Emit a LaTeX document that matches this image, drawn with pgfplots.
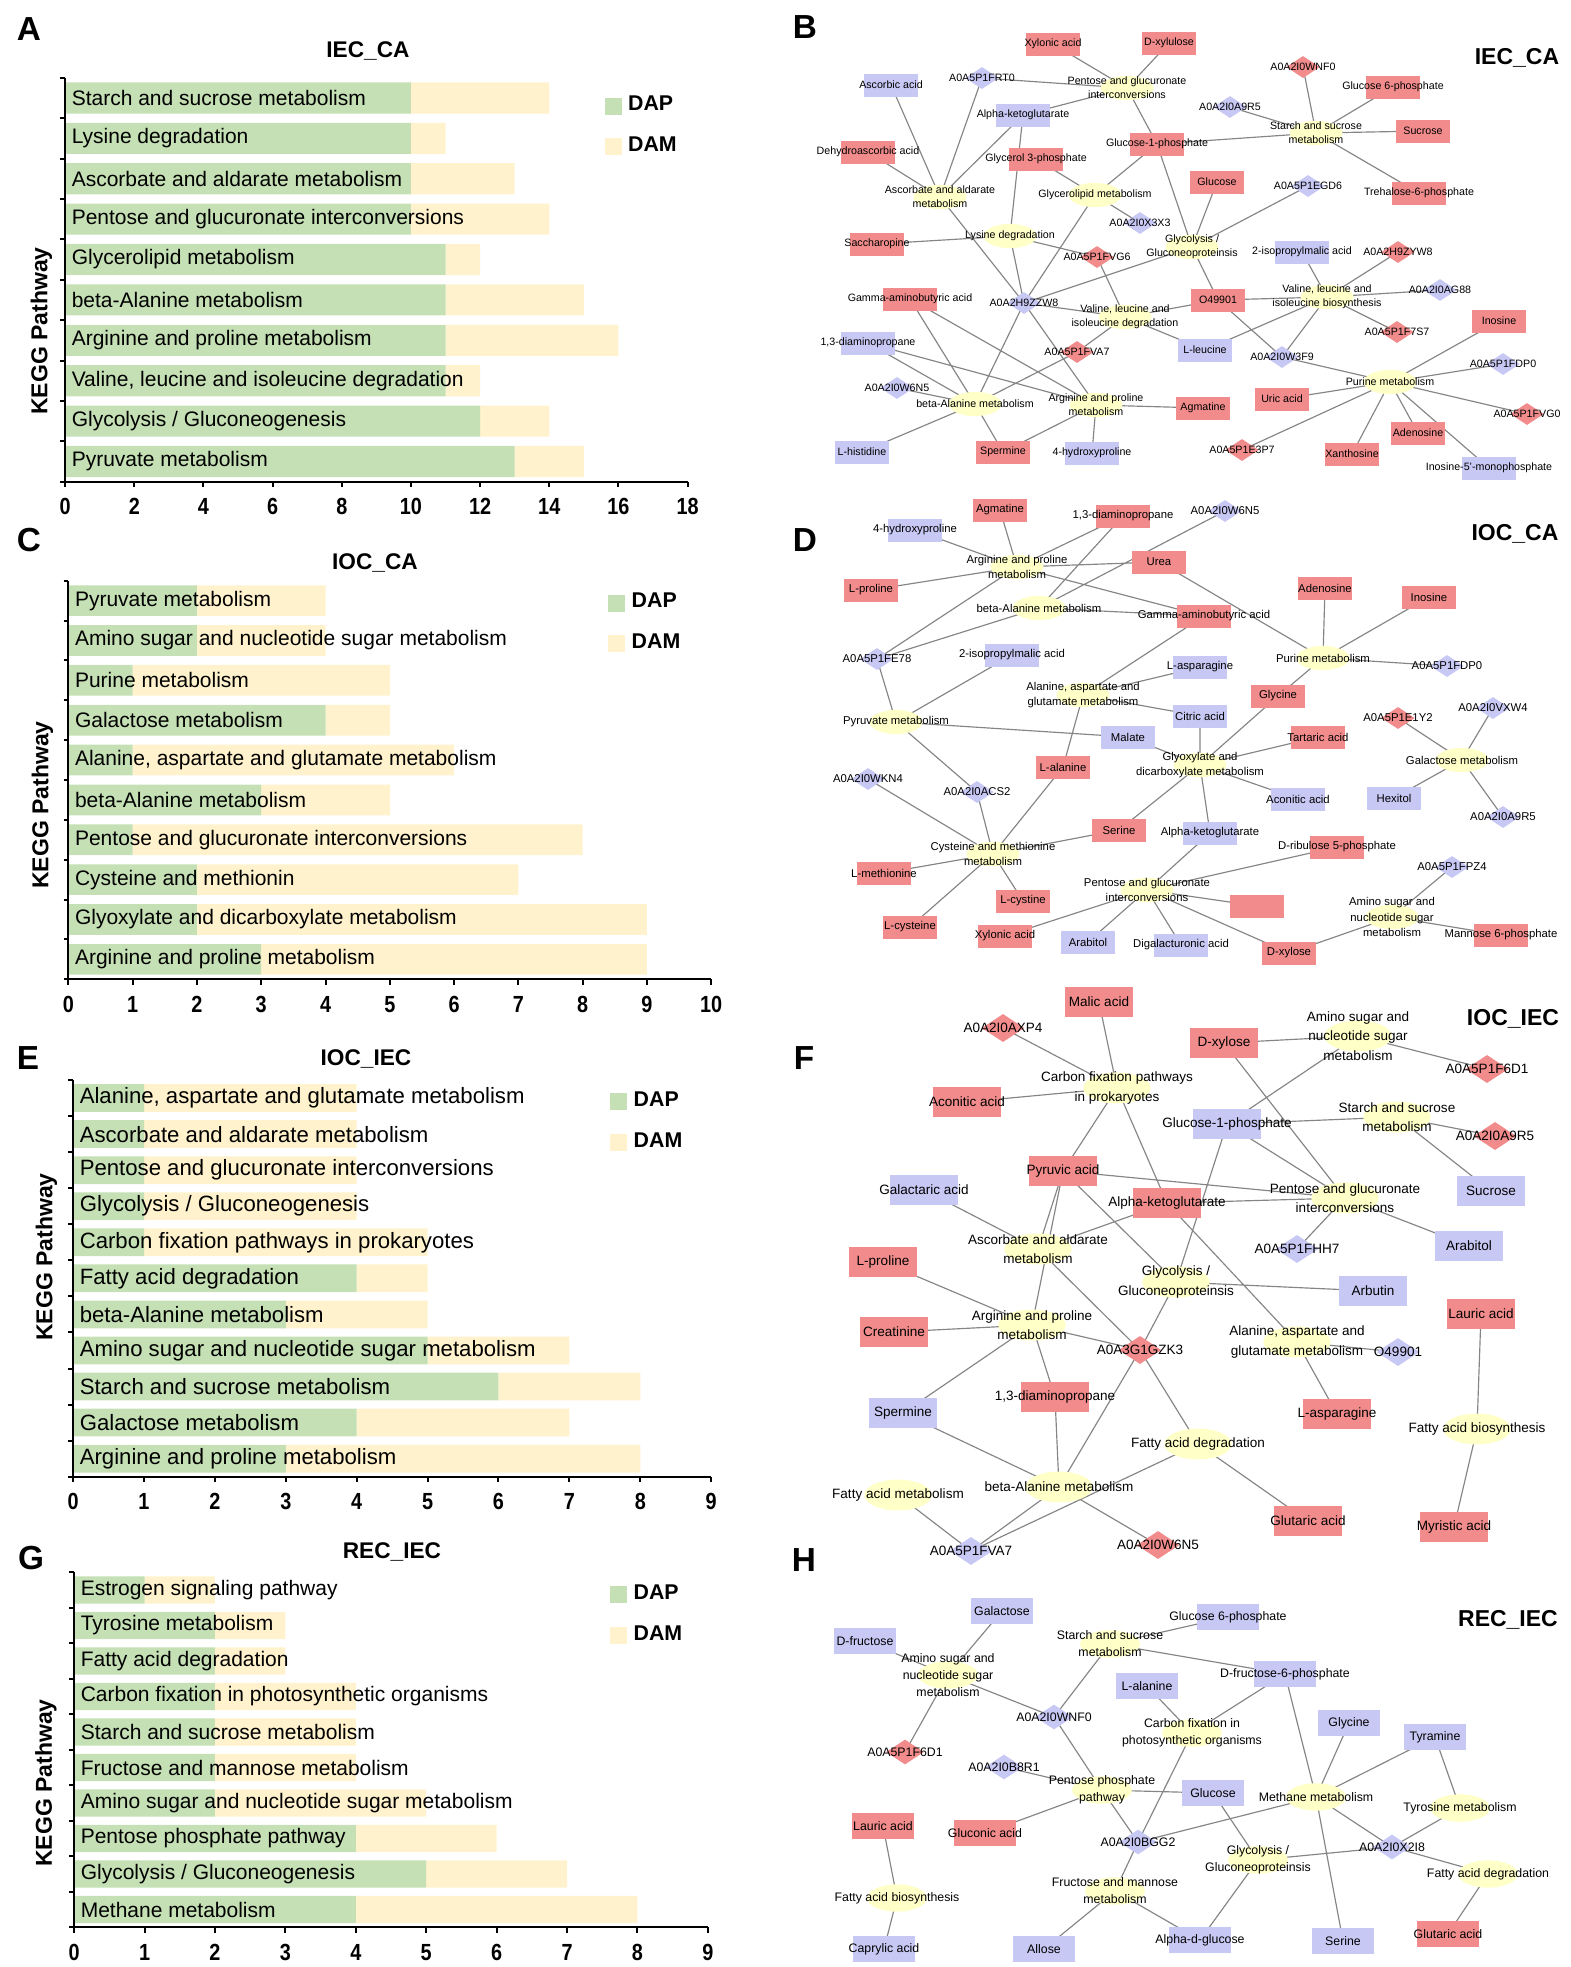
\documentclass[border=0pt]{standalone}
\usepackage{fontspec}
\setmainfont{Liberation Sans}
\newfontfamily\condt{Liberation Sans}[FakeStretch=0.85]
\usepackage{pgfplots}
\usepackage{pgfplotstable}
\pgfplotsset{compat=1.18}
\protected\def\nl{\\}
\definecolor{dapc}{HTML}{C5E0B4}
\definecolor{damc}{HTML}{FFF2CC}
\definecolor{nred}{HTML}{F28C8C}
\definecolor{nblue}{HTML}{C8C8F5}
\definecolor{nyel}{HTML}{FFFFC8}
\definecolor{edgegray}{HTML}{858585}
\pgfdeclareplotmark{rr}{%
  \pgfsetcornersarced{\pgfpoint{0.3\pgfplotmarksize}{0.3\pgfplotmarksize}}%
  \pgfpathrectangle{\pgfpoint{-2.35\pgfplotmarksize}{-\pgfplotmarksize}}{\pgfpoint{4.7\pgfplotmarksize}{2\pgfplotmarksize}}%
  \pgfusepathqfill
  \pgfsetcornersarced{\pgfpointorigin}}
\pgfdeclareplotmark{dm}{%
  \pgfpathmoveto{\pgfpoint{0pt}{0.95\pgfplotmarksize}}%
  \pgfpathlineto{\pgfpoint{1.45\pgfplotmarksize}{0pt}}%
  \pgfpathlineto{\pgfpoint{0pt}{-0.95\pgfplotmarksize}}%
  \pgfpathlineto{\pgfpoint{-1.45\pgfplotmarksize}{0pt}}%
  \pgfpathclose\pgfusepathqfill}
\pgfdeclareplotmark{el}{%
  \pgfpathellipse{\pgfpointorigin}{\pgfpoint{2.3\pgfplotmarksize}{0pt}}{\pgfpoint{0pt}{1.05\pgfplotmarksize}}%
  \pgfusepathqfill}
\pgfplotsset{
  barax/.style={scale only axis, anchor=south west, xbar stacked, bar width=0.77,
    axis lines*=left, axis on top, xmin=0, ymin=-0.5, enlargelimits=false,
    axis line style={line width=0.6pt, black},
    tick align=outside, major tick length=1.6pt, minor tick length=1.4pt,
    tick style={line width=0.6pt, black},
    major y tick style={draw=none},
    xticklabel style={font=\condt\bfseries\fontsize{7}{8}\selectfont, inner sep=1.5pt, yshift=-1.8pt},
    yticklabel style={anchor=west, inner sep=0pt, xshift=3.4pt, font=\fontsize{6.3}{7}\selectfont},
    legend style={draw=none, fill=none, anchor=north west, inner sep=0pt, row sep=2.3pt,
      font=\bfseries\fontsize{6.4}{7}\selectfont},
    legend cell align=left},
  legimg/.style={legend image code/.code={\fill[##1] (0pt,-2.55pt) rectangle (5pt,2.55pt);}},
  edge/.style={draw=edgegray, line width=0.35pt, mark=none, unbounded coords=jump, line join=round},
  netshape/.style={scatter, only marks, mark size=#1, point meta=explicit symbolic,
    scatter/classes={a={mark=rr,nred},b={mark=rr,nblue},c={mark=dm,nred},d={mark=dm,nblue},e={mark=el,nyel}}},
  netlab/.style 2 args={only marks, mark=*, mark size=0.5pt, mark options={draw opacity=0,fill opacity=0},
    point meta=explicit symbolic, nodes near coords,
    every node near coord/.append style={anchor=center, align=center, inner sep=0pt, text=black,
      opacity=1, fill opacity=1, draw opacity=1, text opacity=1,
      font=\fontsize{#1}{#2}\selectfont}},
}
\pgfplotstableread[col sep=semicolon]{
x;y;t;l
1053;44;a;Xylonic acid
1169;43;a;D-xylulose
891;85;b;Ascorbic acid
982;78;d;A0A5P1FRT0
1127;88;e;Pentose and glucuronate\nl interconversions
1023;115;b;Alpha-ketoglutarate
1157;144;a;Glucose-1-phosphate
868;152;a;Dehydroascorbic acid
1036;159;a;Glycerol 3-phosphate
940;197;e;Ascorbate and aldarate\nl metabolism
1095;195;e;Glycerolipid metabolism
1140;223;d;A0A2I0X3X3
1010;236;e;Lysine degradation
877;244;a;Saccharopine
1097;257;c;A0A5P1FVG6
1192;247;e;Glycolysis /\nl Gluconeoproteinsis
910;299;a;Gamma-aminobutyric acid
1024;303;d;A0A2H9ZZW8
1125;317;e;Valine, leucine and\nl isoleucine degradation
868;343;b;1,3-diaminopropane
1077;352;c;A0A5P1FVA7
1205;350;b;L-leucine
897;388;d;A0A2I0W6N5
975;404;e;beta-Alanine metabolism
1096;405;e;Arginine and proline\nl metabolism
1203;408;a;Agmatine
862;452;b;L-histidine
1003;452;a;Spermine
1092;453;b;4-hydroxyproline
1303;67;c;A0A2I0WNF0
1393;87;a;Glucose 6-phosphate
1230;107;d;A0A2I0A9R5
1316;133;e;Starch and sucrose\nl metabolism
1423;131;a;Sucrose
1217;182;a;Glucose
1308;186;d;A0A5P1EGD6
1419;193;a;Trehalose-6-phosphate
1302;252;b;2-isopropylmalic acid
1398;252;c;A0A2H9ZYW8
1218;300;a;O49901
1327;297;e;Valine, leucine and\nl isoleucine biosynthesis
1440;290;d;A0A2I0AG88
1499;321;a;Inosine
1397;332;c;A0A5P1F7S7
1282;357;d;A0A2I0W3F9
1503;364;d;A0A5P1FDP0
1390;382;e;Purine metabolism
1282;399;a;Uric acid
1527;414;c;A0A5P1FVG0
1418;433;a;Adenosine
1242;450;c;A0A5P1E3P7
1352;454;a;Xanthosine
1489;468;b;Inosine-5'-monophosphate
}\nB
\pgfplotstableread[col sep=semicolon]{
x;y;t;l
1000;510;a;Agmatine
915;530;b;4-hydroxyproline
1123;516;a;1,3-diaminopropane
1017;567;e;Arginine and proline\nl metabolism
871;590;a;L-proline
1159;562;a;Urea
1039;608;e;beta-Alanine metabolism
1204;616;a;Gamma-aminobutyric acid
877;659;d;A0A5P1FE78
1012;655;b;2-isopropylmalic acid
1200;667;b;L-asparagine
1083;695;e;Alanine, aspartate and\nl glutamate metabolism
896;722;e;Pyruvate metabolism
1200;716;b;Citric acid
1128;737;b;Malate
1200;765;e;Glyoxylate and\nl dicarboxylate metabolism
1063;767;a;L-alanine
868;779;d;A0A2I0WKN4
977;792;d;A0A2I0ACS2
1119;830;a;Serine
1210;833;b;Alpha-ketoglutarate
993;854;e;Cysteine and methionine\nl metabolism
884;873;a;L-methionine
1147;890;e;Pentose and glucuronate\nl interconversions
1023;901;a;L-cystine
910;927;a;L-cysteine
1005;936;a;Xylonic acid
1088;942;b;Arabitol
1181;945;b;Digalacturonic acid
1225;511;d;A0A2I0W6N5
1325;588;a;Adenosine
1429;597;a;Inosine
1323;658;e;Purine metabolism
1447;666;d;A0A5P1FDP0
1278;696;a;Glycine
1493;708;d;A0A2I0VXW4
1398;718;c;A0A5P1E1Y2
1318;737;a;Tartaric acid
1462;760;e;Galactose metabolism
1298;799;b;Aconitic acid
1394;798;b;Hexitol
1503;817;d;A0A2I0A9R5
1337;847;a;D-ribulose 5-phosphate
1452;867;d;A0A5P1FPZ4
1257;906;a;{}
1392;917;e;Amino sugar and\nl nucleotide sugar\nl metabolism
1501;935;a;Mannose 6-phosphate
1289;953;a;D-xylose
}\nD
\pgfplotstableread[col sep=semicolon]{
x;y;t;l
1099;1002;a;Malic acid
1003;1028;c;A0A2I0AXP4
1117;1088;e;Carbon fixation pathways\nl in prokaryotes
967;1102;a;Aconitic acid
1063;1171;a;Pyruvic acid
924;1190;b;Galactaric acid
1167;1203;a;Alpha-ketoglutarate
1038;1249;e;Ascorbate and aldarate\nl metabolism
883;1262;a;L-proline
1176;1282;e;Glycolysis /\nl Gluconeoproteinsis
1032;1325;e;Arginine and proline\nl metabolism
894;1332;a;Creatinine
1140;1350;c;A0A3G1GZK3
1055;1397;a;1,3-diaminopropane
903;1413;b;Spermine
1198;1444;e;Fatty acid degradation
1059;1487;e;beta-Alanine metabolism
898;1495;e;Fatty acid metabolism
971;1551;d;A0A5P1FVA7
1158;1545;c;A0A2I0W6N5
1224;1043;a;D-xylose
1358;1036;e;Amino sugar and\nl nucleotide sugar\nl metabolism
1487;1069;c;A0A5P1F6D1
1227;1124;b;Glucose-1-phosphate
1397;1117;e;Starch and sucrose\nl metabolism
1495;1136;c;A0A2I0A9R5
1345;1198;e;Pentose and glucuronate\nl interconversions
1491;1191;b;Sucrose
1297;1249;d;A0A5P1FHH7
1469;1246;b;Arabitol
1373;1291;b;Arbutin
1481;1314;a;Lauric acid
1297;1342;e;Alanine, aspartate and\nl glutamate metabolism
1398;1352;d;O49901
1337;1414;a;L-asparagine
1477;1429;e;Fatty acid biosynthesis
1308;1521;a;Glutaric acid
1454;1527;a;Myristic acid
}\nF
\pgfplotstableread[col sep=semicolon]{
x;y;t;l
1002;1611;b;Galactose
865;1641;b;D-fructose
948;1675;e;Amino sugar and\nl nucleotide sugar\nl metabolism
1110;1644;e;Starch and sucrose\nl metabolism
1228;1617;b;Glucose 6-phosphate
1147;1686;b;L-alanine
1054;1717;d;A0A2I0WNF0
1192;1733;e;Carbon fixation in\nl photosynthetic organisms
1285;1674;b;D-fructose-6-phosphate
905;1752;c;A0A5P1F6D1
1004;1767;d;A0A2I0B8R1
1102;1790;e;Pentose phosphate\nl pathway
1213;1793;b;Glucose
883;1826;a;Lauric acid
985;1833;a;Gluconic acid
1138;1842;d;A0A2I0BGG2
897;1898;e;Fatty acid biosynthesis
1115;1891;e;Fructose and mannose\nl metabolism
884;1949;b;Caprylic acid
1044;1949;b;Allose
1200;1940;b;Alpha-d-glucose
1349;1723;b;Glycine
1435;1737;b;Tyramine
1316;1797;e;Methane metabolism
1460;1808;e;Tyrosine metabolism
1392;1847;d;A0A2I0X2I8
1258;1860;e;Glycolysis /\nl Gluconeoproteinsis
1488;1874;e;Fatty acid degradation
1343;1941;b;Serine
1448;1934;a;Glutaric acid
}\nH
\begin{document}
\begin{tikzpicture}
\path (0pt,0pt) rectangle (470.1pt,590.1pt);
% ---------------- networks and panel texts ----------------
\begin{axis}[at={(0pt,0pt)}, anchor=south west, scale only axis, width=470.1pt, height=590.1pt,
  xmin=0, xmax=1567, ymin=0, ymax=1967, y dir=reverse, hide axis, clip=false]
% edges B
\addplot[edge] coordinates {
(1053,44)(1127,88)(nan,nan)(1169,43)(1127,88)(nan,nan)(982,78)(1127,88)(nan,nan)
(1023,115)(1127,88)(nan,nan)(1127,88)(1157,144)(nan,nan)(891,85)(940,197)(nan,nan)
(982,78)(940,197)(nan,nan)(1023,115)(940,197)(nan,nan)(868,152)(940,197)(nan,nan)
(1023,115)(1010,236)(nan,nan)(1036,159)(1095,195)(nan,nan)(940,197)(1024,303)(nan,nan)
(877,244)(1010,236)(nan,nan)(1010,236)(1097,257)(nan,nan)(1010,236)(1024,303)(nan,nan)
(1095,195)(1157,144)(nan,nan)(1095,195)(1140,223)(nan,nan)(1095,195)(1024,303)(nan,nan)
(1097,257)(1125,317)(nan,nan)(1024,303)(1192,247)(nan,nan)(1024,303)(1125,317)(nan,nan)
(1024,303)(975,404)(nan,nan)(1024,303)(1096,405)(nan,nan)(1125,317)(1218,300)(nan,nan)
(1125,317)(1205,350)(nan,nan)(910,299)(975,404)(nan,nan)(910,299)(1096,405)(nan,nan)
(868,343)(975,404)(nan,nan)(868,343)(1096,405)(nan,nan)(1077,352)(1125,317)(nan,nan)
(1077,352)(975,404)(nan,nan)(897,388)(975,404)(nan,nan)(862,452)(975,404)(nan,nan)
(1003,452)(975,404)(nan,nan)(1003,452)(1096,405)(nan,nan)(1092,453)(1096,405)(nan,nan)
(1096,405)(1203,408)(nan,nan)(1157,144)(1316,133)(nan,nan)(1157,144)(1192,247)(nan,nan)
(1217,182)(1192,247)(nan,nan)(1308,186)(1192,247)(nan,nan)(1192,247)(1218,300)(nan,nan)
(1303,67)(1316,133)(nan,nan)(1230,107)(1316,133)(nan,nan)(1393,87)(1316,133)(nan,nan)
(1423,131)(1316,133)(nan,nan)(1419,193)(1316,133)(nan,nan)(1302,252)(1327,297)(nan,nan)
(1398,252)(1327,297)(nan,nan)(1440,290)(1327,297)(nan,nan)(1397,332)(1327,297)(nan,nan)
(1218,300)(1327,297)(nan,nan)(1205,350)(1327,297)(nan,nan)(1282,357)(1327,297)(nan,nan)
(1218,300)(1282,357)(nan,nan)(1282,357)(1390,382)(nan,nan)(1499,321)(1390,382)(nan,nan)
(1503,364)(1390,382)(nan,nan)(1282,399)(1390,382)(nan,nan)(1527,414)(1390,382)(nan,nan)
(1418,433)(1390,382)(nan,nan)(1242,450)(1390,382)(nan,nan)(1352,454)(1390,382)(nan,nan)
(1489,468)(1390,382)};
% edges D
\addplot[edge] coordinates {
(1000,510)(1017,567)(nan,nan)(915,530)(1017,567)(nan,nan)(1123,516)(1017,567)(nan,nan)
(1123,516)(1039,608)(nan,nan)(871,590)(1017,567)(nan,nan)(1017,567)(1159,562)(nan,nan)
(1225,511)(1039,608)(nan,nan)(1017,567)(1204,616)(nan,nan)(1159,562)(1323,658)(nan,nan)
(1039,608)(1204,616)(nan,nan)(877,659)(1017,567)(nan,nan)(877,659)(1039,608)(nan,nan)
(877,659)(896,722)(nan,nan)(1012,655)(896,722)(nan,nan)(1204,616)(1083,695)(nan,nan)
(1200,667)(1083,695)(nan,nan)(1200,716)(1083,695)(nan,nan)(1083,695)(1063,767)(nan,nan)
(896,722)(1128,737)(nan,nan)(1128,737)(1200,765)(nan,nan)(896,722)(977,792)(nan,nan)
(868,779)(993,854)(nan,nan)(977,792)(993,854)(nan,nan)(1063,767)(993,854)(nan,nan)
(1119,830)(993,854)(nan,nan)(1119,830)(1200,765)(nan,nan)(884,873)(993,854)(nan,nan)
(993,854)(1023,901)(nan,nan)(993,854)(910,927)(nan,nan)(1210,833)(1147,890)(nan,nan)
(1005,936)(1147,890)(nan,nan)(1088,942)(1147,890)(nan,nan)(1181,945)(1147,890)(nan,nan)
(1147,890)(1337,847)(nan,nan)(1147,890)(1257,906)(nan,nan)(1147,890)(1289,953)(nan,nan)
(1289,953)(1392,917)(nan,nan)(1452,867)(1392,917)(nan,nan)(1392,917)(1501,935)(nan,nan)
(1200,716)(1200,765)(nan,nan)(1278,696)(1200,765)(nan,nan)(1318,737)(1200,765)(nan,nan)
(1200,765)(1298,799)(nan,nan)(1200,765)(1210,833)(nan,nan)(1278,696)(1323,658)(nan,nan)
(1325,588)(1323,658)(nan,nan)(1429,597)(1323,658)(nan,nan)(1447,666)(1323,658)(nan,nan)
(1398,718)(1462,760)(nan,nan)(1493,708)(1462,760)(nan,nan)(1394,798)(1462,760)(nan,nan)
(1503,817)(1462,760)};
% edges F
\addplot[edge] coordinates {
(1099,1002)(1117,1088)(nan,nan)(1003,1028)(1117,1088)(nan,nan)(967,1102)(1117,1088)(nan,nan)
(1117,1088)(1063,1171)(nan,nan)(1117,1088)(1167,1203)(nan,nan)(1063,1171)(1345,1198)(nan,nan)
(1167,1203)(1345,1198)(nan,nan)(1063,1171)(1176,1282)(nan,nan)(1063,1171)(1038,1249)(nan,nan)
(1063,1171)(1032,1325)(nan,nan)(924,1190)(1038,1249)(nan,nan)(1167,1203)(1038,1249)(nan,nan)
(1038,1249)(1140,1350)(nan,nan)(883,1262)(1032,1325)(nan,nan)(894,1332)(1032,1325)(nan,nan)
(1032,1325)(1140,1350)(nan,nan)(1032,1325)(1055,1397)(nan,nan)(1032,1325)(903,1413)(nan,nan)
(1140,1350)(1176,1282)(nan,nan)(1227,1124)(1176,1282)(nan,nan)(1140,1350)(1198,1444)(nan,nan)
(1140,1350)(1059,1487)(nan,nan)(1167,1203)(1297,1342)(nan,nan)(1055,1397)(1059,1487)(nan,nan)
(903,1413)(1059,1487)(nan,nan)(1059,1487)(971,1551)(nan,nan)(1059,1487)(1158,1545)(nan,nan)
(1198,1444)(971,1551)(nan,nan)(898,1495)(971,1551)(nan,nan)(1198,1444)(1308,1521)(nan,nan)
(1176,1282)(1373,1291)(nan,nan)(1224,1043)(1358,1036)(nan,nan)(1358,1036)(1487,1069)(nan,nan)
(1227,1124)(1358,1036)(nan,nan)(1224,1043)(1345,1198)(nan,nan)(1227,1124)(1397,1117)(nan,nan)
(1397,1117)(1495,1136)(nan,nan)(1397,1117)(1491,1191)(nan,nan)(1227,1124)(1345,1198)(nan,nan)
(1345,1198)(1297,1249)(nan,nan)(1345,1198)(1469,1246)(nan,nan)(1297,1342)(1398,1352)(nan,nan)
(1297,1342)(1337,1414)(nan,nan)(1481,1314)(1477,1429)(nan,nan)(1477,1429)(1454,1527)};
% edges H
\addplot[edge] coordinates {
(1002,1611)(948,1675)(nan,nan)(865,1641)(948,1675)(nan,nan)(948,1675)(905,1752)(nan,nan)
(948,1675)(1054,1717)(nan,nan)(1110,1644)(1054,1717)(nan,nan)(1110,1644)(1228,1617)(nan,nan)
(1110,1644)(1285,1674)(nan,nan)(1054,1717)(1102,1790)(nan,nan)(1004,1767)(1102,1790)(nan,nan)
(1102,1790)(1213,1793)(nan,nan)(985,1833)(1102,1790)(nan,nan)(1102,1790)(1138,1842)(nan,nan)
(1192,1733)(1138,1842)(nan,nan)(1147,1686)(1192,1733)(nan,nan)(1285,1674)(1192,1733)(nan,nan)
(1138,1842)(1316,1797)(nan,nan)(1138,1842)(1115,1891)(nan,nan)(1115,1891)(1044,1949)(nan,nan)
(1115,1891)(1200,1940)(nan,nan)(883,1826)(897,1898)(nan,nan)(897,1898)(884,1949)(nan,nan)
(1285,1674)(1316,1797)(nan,nan)(1349,1723)(1316,1797)(nan,nan)(1435,1737)(1316,1797)(nan,nan)
(1316,1797)(1343,1941)(nan,nan)(1316,1797)(1392,1847)(nan,nan)(1213,1793)(1258,1860)(nan,nan)
(1258,1860)(1392,1847)(nan,nan)(1258,1860)(1200,1940)(nan,nan)(1435,1737)(1460,1808)(nan,nan)
(1460,1808)(1392,1847)(nan,nan)(1392,1847)(1488,1874)(nan,nan)(1488,1874)(1448,1934)};
% node shapes
\addplot[netshape=3.45pt] table[x=x,y=y,meta=t]{\nB};
\addplot[netshape=3.45pt] table[x=x,y=y,meta=t]{\nD};
\addplot[netshape=4.4pt] table[x=x,y=y,meta=t]{\nF};
\addplot[netshape=3.9pt] table[x=x,y=y,meta=t]{\nH};
% node labels
\addplot[netlab={3.2}{4.3}] table[x=x,y=y,meta=l]{\nB};
\addplot[netlab={3.4}{4.6}] table[x=x,y=y,meta=l]{\nD};
\addplot[netlab={4.06}{5.85}] table[x=x,y=y,meta=l]{\nF};
\addplot[netlab={3.7}{5.1}] table[x=x,y=y,meta=l]{\nH};
% panel letters
\node[font=\bfseries\fontsize{10}{12}\selectfont] at (axis cs:29,29) {A};
\node[font=\bfseries\fontsize{10}{12}\selectfont] at (axis cs:29,540) {C};
\node[font=\bfseries\fontsize{10}{12}\selectfont] at (axis cs:28,1058) {E};
\node[font=\bfseries\fontsize{10}{12}\selectfont] at (axis cs:31,1558) {G};
\node[font=\bfseries\fontsize{10}{12}\selectfont] at (axis cs:805,27) {B};
\node[font=\bfseries\fontsize{10}{12}\selectfont] at (axis cs:805,540) {D};
\node[font=\bfseries\fontsize{10}{12}\selectfont] at (axis cs:804,1058) {F};
\node[font=\bfseries\fontsize{10}{12}\selectfont] at (axis cs:804,1560) {H};
% bar chart titles
\node[font=\bfseries\fontsize{6.8}{8}\selectfont] at (axis cs:368,51) {IEC\_CA};
\node[font=\bfseries\fontsize{6.8}{8}\selectfont] at (axis cs:375,563) {IOC\_CA};
\node[font=\bfseries\fontsize{6.8}{8}\selectfont] at (axis cs:366,1059) {IOC\_IEC};
\node[font=\bfseries\fontsize{6.8}{8}\selectfont] at (axis cs:392,1552) {REC\_IEC};
% network titles
\node[font=\bfseries\fontsize{6.9}{8}\selectfont] at (axis cs:1517,58) {IEC\_CA};
\node[font=\bfseries\fontsize{6.9}{8}\selectfont] at (axis cs:1515,534) {IOC\_CA};
\node[font=\bfseries\fontsize{6.9}{8}\selectfont] at (axis cs:1513,1019) {IOC\_IEC};
\node[font=\bfseries\fontsize{6.9}{8}\selectfont] at (axis cs:1508,1620) {REC\_IEC};
% y axis labels
\node[font=\bfseries\fontsize{6.9}{8}\selectfont, rotate=90] at (axis cs:41.5,331) {KEGG Pathway};
\node[font=\bfseries\fontsize{6.9}{8}\selectfont, rotate=90] at (axis cs:42.5,805) {KEGG Pathway};
\node[font=\bfseries\fontsize{6.9}{8}\selectfont, rotate=90] at (axis cs:46.5,1257) {KEGG Pathway};
\node[font=\bfseries\fontsize{6.9}{8}\selectfont, rotate=90] at (axis cs:46,1783) {KEGG Pathway};
\end{axis}
% ---------------- A ----------------
\begin{axis}[barax, at={(19.53pt,445.59pt)}, width=186.75pt, height=121.17pt, xmax=18, ymax=9.5,
  xtick={0,2,...,18}, xticklabels={0,2,4,6,8,10,12,14,16,18},
  ytick={0,...,9}, minor ytick={-0.5,0.5,...,9.5},
  yticklabels={Pyruvate metabolism,Glycolysis / Gluconeogenesis,{Valine, leucine and isoleucine degradation},Arginine and proline metabolism,beta-Alanine metabolism,Glycerolipid metabolism,Pentose and glucuronate interconversions,Ascorbate and aldarate metabolism,Lysine degradation,Starch and sucrose metabolism},
  legend style={at={(0.866,0.9725)}}]
\addplot[fill=dapc, draw=none, legimg] coordinates {(13,0) (12,1) (11,2) (11,3) (11,4) (11,5) (10,6) (10,7) (10,8) (10,9)};
\addplot[fill=damc, draw=none, legimg] coordinates {(2,0) (2,1) (1,2) (5,3) (4,4) (1,5) (4,6) (3,7) (1,8) (4,9)};
\legend{DAP,DAM}
\end{axis}
% ---------------- C ----------------
\begin{axis}[barax, at={(20.52pt,296.31pt)}, width=192.84pt, height=119.58pt, xmax=10, ymax=9.5,
  xtick={0,...,10}, xticklabels={0,1,2,3,4,5,6,7,8,9,10},
  ytick={0,...,9}, minor ytick={-0.5,0.5,...,9.5},
  yticklabels={Arginine and proline metabolism,Glyoxylate and dicarboxylate metabolism,Cysteine and methionin,Pentose and glucuronate interconversions,beta-Alanine metabolism,{Alanine, aspartate and glutamate metabolism},Galactose metabolism,Purine metabolism,Amino sugar and nucleotide sugar metabolism,Pyruvate metabolism},
  legend style={at={(0.839,0.987)}}]
\addplot[fill=dapc, draw=none, legimg] coordinates {(3,0) (2,1) (2,2) (1,3) (3,4) (1,5) (4,6) (1,7) (2,8) (2,9)};
\addplot[fill=damc, draw=none, legimg] coordinates {(6,0) (7,1) (5,2) (7,3) (2,4) (5,5) (1,6) (4,7) (2,8) (2,9)};
\legend{DAP,DAM}
\end{axis}
% ---------------- E ----------------
\begin{axis}[barax, at={(21.93pt,147.09pt)}, width=191.43pt, height=119.01pt, xmax=9, ymax=10.5,
  xtick={0,...,9}, xticklabels={0,1,2,3,4,5,6,7,8,9},
  ytick={0,...,10}, minor ytick={-0.5,0.5,...,10.5},
  yticklabel style={font=\fontsize{6.65}{7}\selectfont},
  yticklabels={Arginine and proline metabolism,Galactose metabolism,Starch and sucrose metabolism,Amino sugar and nucleotide sugar metabolism,beta-Alanine metabolism,Fatty acid degradation,Carbon fixation pathways in prokaryotes,Glycolysis / Gluconeogenesis,Pentose and glucuronate interconversions,Ascorbate and aldarate metabolism,{Alanine, aspartate and glutamate metabolism}},
  legend style={at={(0.841,0.988)}}]
\addplot[fill=dapc, draw=none, legimg] coordinates {(3,0) (4,1) (6,2) (5,3) (3,4) (4,5) (1,6) (1,7) (1,8) (1,9) (1,10)};
\addplot[fill=damc, draw=none, legimg] coordinates {(5,0) (3,1) (2,2) (2,3) (2,4) (1,5) (4,6) (3,7) (3,8) (3,9) (3,10)};
\legend{DAP,DAM}
\end{axis}
% ---------------- G ----------------
\begin{axis}[barax, at={(22.23pt,11.91pt)}, width=190.14pt, height=106.5pt, xmax=9, ymax=9.5,
  xtick={0,...,9}, xticklabels={0,1,2,3,4,5,6,7,8,9},
  ytick={0,...,9}, minor ytick={-0.5,0.5,...,9.5},
  yticklabels={Methane metabolism,Glycolysis / Gluconeogenesis,Pentose phosphate pathway,Amino sugar and nucleotide sugar metabolism,Fructose and mannose metabolism,Starch and sucrose metabolism,Carbon fixation in photosynthetic organisms,Fatty acid degradation,Tyrosine metabolism,Estrogen signaling pathway},
  legend style={at={(0.845,0.985)}}]
\addplot[fill=dapc, draw=none, legimg] coordinates {(4,0) (5,1) (4,2) (2,3) (2,4) (2,5) (2,6) (2,7) (2,8) (1,9)};
\addplot[fill=damc, draw=none, legimg] coordinates {(4,0) (2,1) (2,2) (3,3) (2,4) (2,5) (2,6) (1,7) (1,8) (1,9)};
\legend{DAP,DAM}
\end{axis}
\end{tikzpicture}
\end{document}
